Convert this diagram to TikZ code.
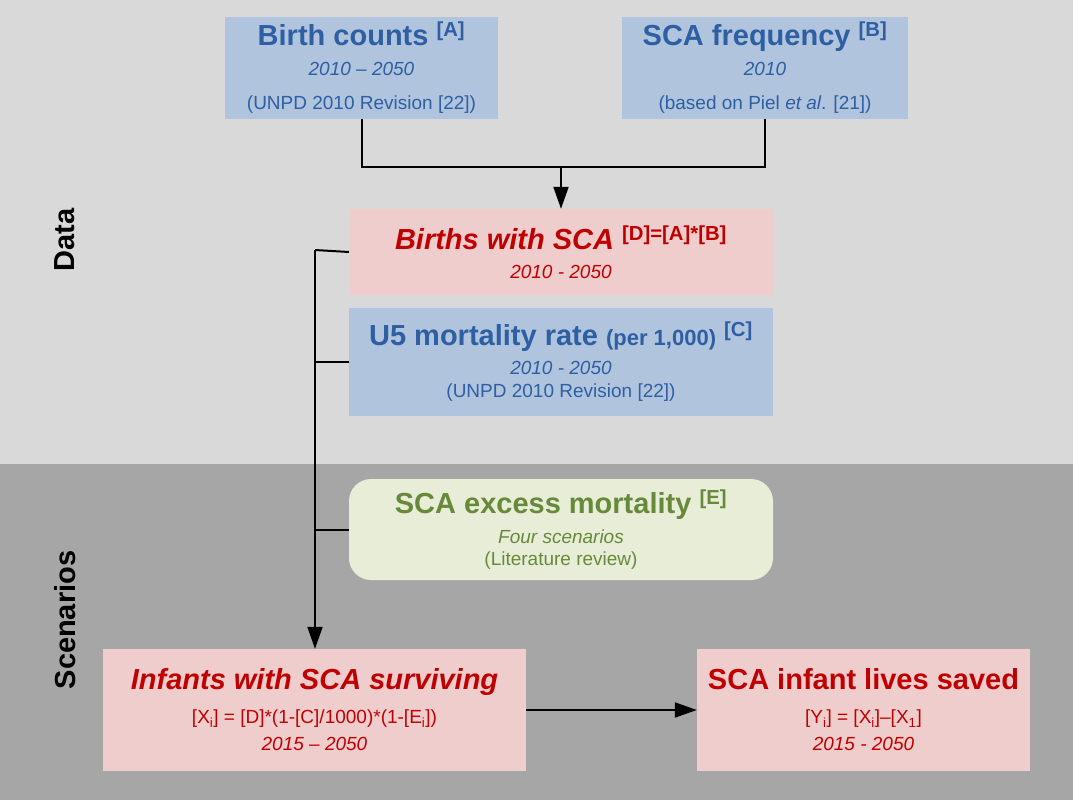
\documentclass[tikz,border=0pt]{standalone}
\usepackage{fontspec}
\setmainfont{Liberation Sans}
\usetikzlibrary{arrows.meta}
\definecolor{bluefill}{RGB}{176,196,222}
\definecolor{bluetext}{RGB}{46,95,163}
\definecolor{redfill}{RGB}{240,205,205}
\definecolor{redtext}{RGB}{192,0,0}
\definecolor{greenfill}{RGB}{232,237,216}
\definecolor{greentext}{RGB}{103,138,58}
\newcommand{\ttl}{\fontsize{29}{33}\selectfont\bfseries}
\newcommand{\sub}{\fontsize{19}{26}\selectfont}
\begin{document}
\begin{tikzpicture}[x=1pt,y=-1pt,
  box/.style={draw=none,inner sep=0pt,align=center,font=\sub},
  link/.style={line width=2pt},
  arr/.style={line width=2pt,-{Triangle[length=22pt,width=15pt]}}]
\useasboundingbox (0,0) rectangle (1073,800);
%backgrounds
\fill [gray!30] (0,0) rectangle (1073,464);
\fill [gray!70] (0,464) rectangle (1073,800);
\node [rotate=90,font=\ttl] (data) at (65,240) {Data};
\node [rotate=90,font=\ttl] (scen) at (65,620) {Scenarios};
%boxes
\node [box,fill=bluefill,text=bluetext,minimum width=273pt,minimum height=102pt] (A) at (361.5,68) {{\ttl Birth counts \textsuperscript{[A]}}\\[4pt]{\itshape 2010 -- 2050}\\[8pt](UNPD 2010 Revision [22])};
\node [box,fill=bluefill,text=bluetext,minimum width=286pt,minimum height=102pt] (B) at (765,68) {{\ttl SCA frequency \textsuperscript{[B]}}\\[4pt]{\itshape 2010}\\[8pt](based on Piel \textit{et al}. [21])};
\node [box,fill=redfill,text=redtext,minimum width=424pt,minimum height=86pt] (D) at (561,252) {{\ttl\itshape Births with SCA \textsuperscript{\upshape[D]=[A]*[B]}}\\[3pt]{\itshape 2010 - 2050}};
\node [box,fill=bluefill,text=bluetext,minimum width=424pt,minimum height=108pt] (C) at (561,362) {{\ttl U5 mortality rate {\fontsize{22}{24}\selectfont(per 1,000)} \textsuperscript{[C]}}\\[3pt]{\itshape 2010 - 2050}\\[-3pt](UNPD 2010 Revision [22])};
\node [box,fill=greenfill,text=greentext,rounded corners=22pt,minimum width=424pt,minimum height=101pt] (E) at (561,529.5) {{\ttl SCA excess mortality \textsuperscript{[E]}}\\[4pt]{\itshape Four scenarios}\\[-4pt](Literature review)};
\node [box,fill=redfill,text=redtext,minimum width=423pt,minimum height=122pt] (X) at (314.5,710) {{\ttl\itshape Infants with SCA surviving}\\[8pt][X\textsubscript{i}] = [D]*(1-[C]/1000)*(1-[E\textsubscript{i}])\\[1pt]{\itshape 2015 -- 2050}};
\node [box,fill=redfill,text=redtext,minimum width=333pt,minimum height=122pt] (Y) at (863.5,710) {{\ttl SCA infant lives saved}\\[8pt][Y\textsubscript{i}] = [X\textsubscript{i}]--[X\textsubscript{1}]\\[1pt]{\itshape 2015 - 2050}};
%connectors
\coordinate (j) at (561,167);
\coordinate (top) at (315,250);
\draw [link] (A.south) |- (j) -| (B.south);
\draw [arr] (j) -- (D.north);
\draw [link] (D.west) -- (top);
\draw [arr] (top) -- (X.north -| top);
\draw [link] (C.west) -- (C.west -| top);
\draw [link] (E.west) -- (E.west -| top);
\draw [arr] (X.east) -- (Y.west);
\end{tikzpicture}
\end{document}
